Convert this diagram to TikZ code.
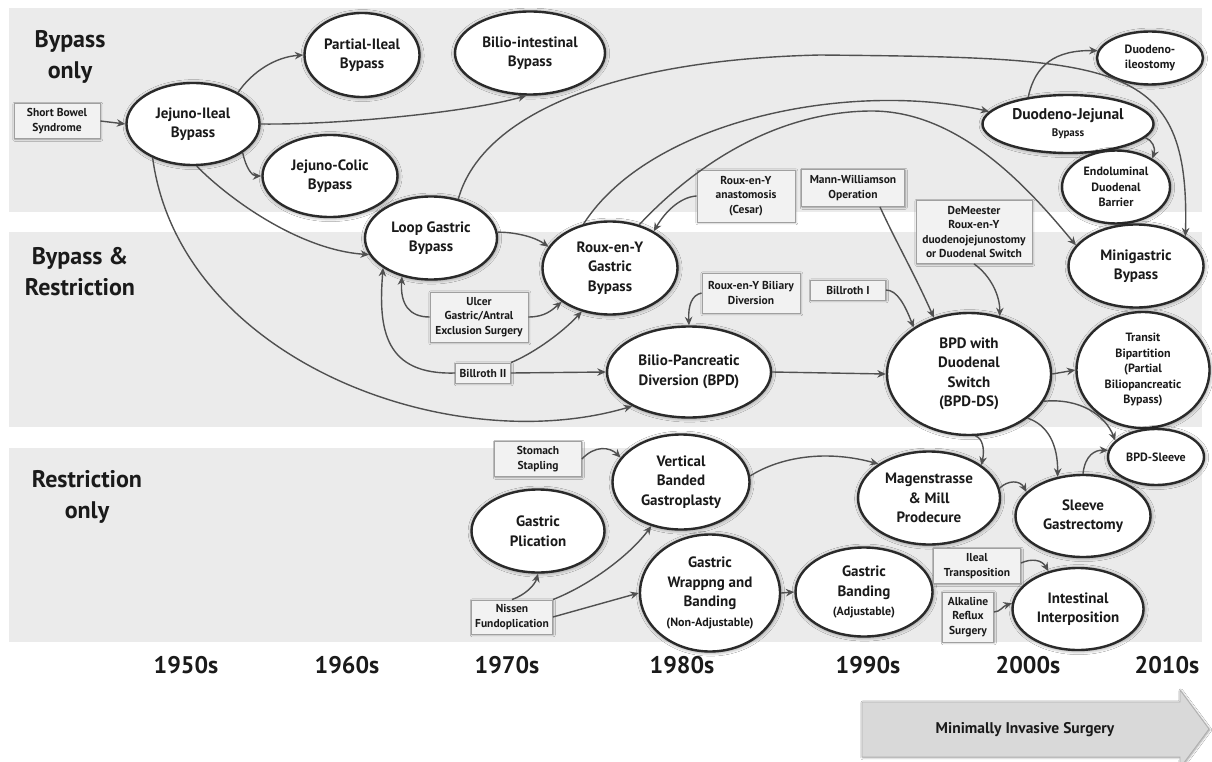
\documentclass[tikz,border=0pt]{standalone}
\usepackage{fontspec}
\setmainfont{PT Sans}
\usetikzlibrary{shapes.geometric,arrows.meta,shadows.blur}
\definecolor{band}{HTML}{EBEBEB}
\definecolor{edgec}{HTML}{2A2A2A}
\definecolor{boxfill}{HTML}{F2F2F2}
\definecolor{boxline}{HTML}{A0A0A0}
\definecolor{conncol}{HTML}{505050}
\definecolor{txt}{HTML}{1A1A1A}
\definecolor{misfill}{HTML}{D9D9D9}
\definecolor{misline}{HTML}{B0B0B0}
\begin{document}
\begin{tikzpicture}[x=1pt,y=-1pt,
  ell/.style={ellipse,draw=edgec,line width=2.4pt,fill=white,inner sep=0pt,align=center,text=txt,
    font=\fontsize{15}{19.5}\selectfont\bfseries,
    blur shadow={shadow xshift=0.6pt,shadow yshift=-0.6pt,shadow blur radius=4pt,shadow blur steps=6,shadow opacity=55}},
  ells/.style={ell,font=\fontsize{12}{15.5}\selectfont\bfseries},
  box/.style={rectangle,draw=boxline,line width=0.9pt,fill=boxfill,inner sep=0pt,align=center,text=txt,
    font=\fontsize{11.5}{14.5}\selectfont\bfseries,
    blur shadow={shadow xshift=0.8pt,shadow yshift=-0.8pt,shadow blur radius=2pt,shadow blur steps=4}},
  sz/.style 2 args={minimum width=#1pt,minimum height=#2pt},
  conn/.style={draw=conncol,line width=1.4pt,-{Stealth[length=8.5pt,width=7.5pt]}},
  lane/.style={fill=band,draw=none},
  head/.style={align=center,text=txt,font=\fontsize{24}{31}\selectfont\bfseries},
  dec/.style={text=txt,font=\fontsize{24}{28}\selectfont\bfseries}
]
\useasboundingbox (0,0) rectangle (1212,762);
\clip (0,0) rectangle (1212,762);
\fill[white] (0,0) rectangle (1212,762);
% bands
\fill[lane] (9,8) rectangle (1202,212);
\fill[lane] (9,232) rectangle (1202,427);
\fill[lane] (9,448) rectangle (1202,642);
% headings
\node[head] (h1) at (70,57) {Bypass\\only};
\node[head] (h2) at (80,272) {Bypass \&\\Restriction};
\node[head] (h3) at (87,497) {Restriction\\only};
% decades
\node[dec] (d50) at (186,665) {1950s};
\node[dec] (d60) at (347,665) {1960s};
\node[dec] (d70) at (507,665) {1970s};
\node[dec] (d80) at (682,665) {1980s};
\node[dec] (d90) at (868,665) {1990s};
\node[dec] (d00) at (1028,665) {2000s};
\node[dec] (d10) at (1167,665) {2010s};
% minimally invasive arrow
\path[draw=misline,fill=misfill,line width=0.8pt,blur shadow={shadow xshift=0.8pt,shadow yshift=-0.8pt,shadow blur radius=2pt,shadow blur steps=4}] (862,702) -- (1180,702) -- (1180,690) -- (1209,729) -- (1180,768) -- (1180,757) -- (862,757) -- cycle;
\node[text=txt,font=\fontsize{15.5}{18}\selectfont\bfseries] (mis) at (1025,730) {Minimally Invasive Surgery};
% nodes
\node[box,sz={86}{35}] (sb) at (57,121) {Short Bowel\\Syndrome};
\node[ell,sz={133}{82}] (ji) at (193,124) {Jejuno-Ileal\\Bypass};
\node[ell,sz={115}{84}] (pi) at (362,55) {Partial-Ileal\\Bypass};
\node[ell,sz={150}{83}] (bi) at (530,53) {Bilio-intestinal\\Bypass};
\node[ell,sz={135}{82}] (jc) at (330,176) {Jejuno-Colic\\Bypass};
\node[ell,sz={132}{83}] (lg) at (431,238) {Loop Gastric\\Bypass};
\node[ell,sz={135}{93}] (ry) at (610,268) {Roux-en-Y\\Gastric\\Bypass};
\node[box,sz={98}{52}] (ces) at (746,196) {Roux-en-Y\\anastomosis\\(Cesar)};
\node[box,sz={103}{37}] (mw) at (853,188) {Mann-Williamson\\Operation};
\node[box,sz={116}{63}] (dm) at (974,232) {DeMeester\\Roux-en-Y\\duodenojejunostomy\\or Duodenal Switch};
\node[ells,sz={106}{53}] (di) at (1150,58) {Duodeno-\\ileostomy};
\node[ell,sz={171}{58},font=\fontsize{15.5}{17}\selectfont\bfseries] (dj) at (1068,124) {Duodeno-Jejunal\\{\fontsize{11}{13}\selectfont Bypass}};
\node[ells,sz={108}{73}] (edb) at (1116,187) {Endoluminal\\Duodenal\\Barrier};
\node[ell,sz={135}{83}] (mg) at (1136,266) {Minigastric\\Bypass};
\node[box,sz={98}{40}] (rybd) at (751,293) {Roux-en-Y Biliary\\Diversion};
\node[box,sz={75}{20}] (b1) at (848,290) {Billroth I};
\node[box,sz={98}{50}] (ul) at (479,317) {Ulcer\\Gastric/Antral\\Exclusion Surgery};
\node[box,sz={55}{20}] (b2) at (483,373) {Billroth II};
\node[ell,sz={164}{91}] (bpd) at (689,372) {Bilio-Pancreatic\\Diversion (BPD)};
\node[ell,sz={164}{122}] (ds) at (969,374) {BPD with\\Duodenal\\Switch\\(BPD-DS)};
\node[ells,sz={133}{116}] (tb) at (1143,370) {Transit\\Bipartition\\(Partial\\Biliopancreatic\\Bypass)};
\node[ells,sz={96}{56}] (bs) at (1156,457) {BPD-Sleeve};
\node[box,sz={87}{35}] (ss) at (538,459) {Stomach\\Stapling};
\node[ell,sz={137}{95}] (vbg) at (681,482) {Vertical\\Banded\\Gastroplasty};
\node[ell,sz={133}{83}] (gp) at (538,531) {Gastric\\Plication};
\node[box,sz={81}{34}] (nis) at (512,617) {Nissen\\Fundoplication};
\node[ell,sz={140}{117}] (gw) at (710,593) {Gastric\\Wrappng and\\Banding\\{\fontsize{12}{15}\selectfont(Non-Adjustable)}};
\node[ell,sz={137}{89}] (gb) at (864,592) {Gastric\\Banding\\{\fontsize{12}{15}\selectfont(Adjustable)}};
\node[ell,sz={142}{93}] (mm) at (929,498) {Magenstrasse\\\& Mill\\Prodecure};
\node[ell,sz={135}{82}] (sg) at (1083,516) {Sleeve\\Gastrectomy};
\node[box,sz={87}{35}] (it) at (977,566) {Ileal\\Transposition};
\node[box,sz={51}{50}] (ar) at (968,617) {Alkaline\\Reflux\\Surgery};
\node[ell,sz={131}{82}] (ii) at (1078,609) {Intestinal\\Interposition};
% connectors
\draw[conn] (sb.east) -- (ji.west);
\draw[conn] (ji.35) .. controls (252,72) and (275,57) .. (pi.west);
\draw[conn] (ji.east) .. controls (340,125) and (470,112) .. (bi.265);
\draw[conn] (ji.-30) .. controls (246,168) and (252,176) .. (jc.west);
\draw[conn] (ji.-85) .. controls (230,200) and (300,250) .. (lg.195);
\draw[conn] (ji.220) .. controls (180,360) and (450,460) .. (bpd.211);
\draw[conn] (lg.55) .. controls (480,120) and (600,60) .. (820,55) .. controls (1120,58) and (1190,60) .. (mg.31);
\draw[conn] (ry.121) .. controls (650,120) and (850,80) .. (dj.171);
\draw[conn] (ry.56) .. controls (700,160) and (780,112) .. (870,111) .. controls (960,110) and (1030,190) .. (mg.161);
\draw[conn] (ces.west) .. controls (680,197) and (665,212) .. (ry.40);
\draw[conn] (lg.5) .. controls (515,232) and (535,237) .. (ry.161);
\draw[conn] (ul.west) .. controls (410,317) and (400,305) .. (lg.233);
\draw[conn] (ul.east) .. controls (545,317) and (552,310) .. (ry.215);
\draw[conn] (b2.west) .. controls (385,375) and (378,330) .. (lg.212);
\draw[conn] (b2.north east) .. controls (530,355) and (560,335) .. (ry.237);
\draw[conn] (b2.east) -- (bpd.west);
\draw[conn] (rybd.west) .. controls (692,295) and (688,305) .. (bpd.north);
\draw[conn] (bpd.east) -- (ds.west);
\draw[conn] (b1.east) .. controls (897,290) and (905,305) .. (ds.140);
\draw[conn] ([xshift=27pt]mw.south) .. controls (895,240) and (915,275) .. (ds.122);
\draw[conn] (dm.south) .. controls (990,275) and (1000,295) .. (ds.62);
\draw[conn] (ds.east) -- (tb.west);
\draw[conn] (ds.-20) .. controls (1080,398) and (1105,415) .. (bs.158);
\draw[conn] (ds.-37) .. controls (1048,425) and (1058,445) .. (sg.123);
\draw[conn] (ds.-84) .. controls (982,438) and (985,448) .. (mm.32);
\draw[conn] (sg.90) .. controls (1085,455) and (1095,450) .. (bs.172);
\draw[conn] (mm.8) .. controls (1008,480) and (1020,480) .. (sg.157);
\draw[conn] (vbg.5) .. controls (775,460) and (820,448) .. (mm.146);
\draw[conn] (ss.east) .. controls (595,445) and (610,447) .. (vbg.158);
\draw[conn] (nis.north) .. controls (525,595) and (535,585) .. (gp.south);
\draw[conn] (nis.north east) .. controls (590,585) and (630,555) .. (vbg.236);
\draw[conn] (nis.east) -- (gw.west);
\draw[conn] (gw.east) -- (gb.west);
\draw[conn] ([yshift=3pt]it.east) .. controls (1032,558) and (1042,560) .. (ii.128);
\draw[conn] ([yshift=5pt]ar.east) .. controls (1000,612) and (1003,606) .. (ii.175);
\draw[conn] (dj.146) .. controls (1035,65) and (1055,50) .. (di.172);
\draw[conn] (dj.-10) .. controls (1152,140) and (1156,148) .. (edb.38);
\end{tikzpicture}
\end{document}
